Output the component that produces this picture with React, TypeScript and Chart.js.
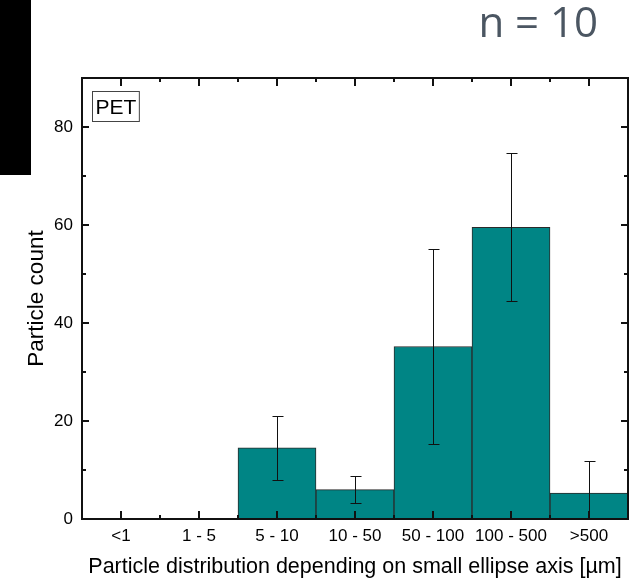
import React, { useEffect, useRef } from 'react';
import { Chart, registerables } from 'chart.js';

Chart.register(...registerables);

const categories = ['<1', '1 - 5', '5 - 10', '10 - 50', '50 - 100', '100 - 500', '>500'];
const counts = [0, 0, 14.5, 6.0, 35.2, 59.5, 5.3];
const errors = [0, 0, 6.5, 2.7, 19.8, 15.1, 6.6];
const yTicks = [0, 20, 40, 60, 80];
const yMinorTicks = [10, 30, 50, 70];
const panelLabel = 'PET';
const sampleLabel = 'n = 10';
const xTitle = 'Particle distribution depending on small ellipse axis [µm]';
const yTitle = 'Particle count';

const FONT = '"Liberation Sans", Arial, sans-serif';

const decor = {
  id: 'decor',
  beforeDraw(chart: any) {
    const { ctx, width, height } = chart;
    ctx.save();
    ctx.fillStyle = '#ffffff';
    ctx.fillRect(0, 0, width, height);
    ctx.restore();
  },
  afterDatasetsDraw(chart: any) {
    const { ctx, chartArea: a, scales } = chart;
    const x = scales.x;
    const y = scales.y;
    const meta = chart.getDatasetMeta(0);

    // error bars
    ctx.save();
    ctx.beginPath();
    ctx.rect(a.left, a.top, a.right - a.left, a.bottom - a.top);
    ctx.clip();
    ctx.strokeStyle = '#111111';
    ctx.lineWidth = 1;
    meta.data.forEach((bar: any, i: number) => {
      const e = errors[i];
      if (!e) return;
      const cx = Math.round(bar.x) + 0.5;
      const yHi = Math.round(y.getPixelForValue(counts[i] + e)) + 0.5;
      const yLo = Math.round(y.getPixelForValue(counts[i] - e)) + 0.5;
      ctx.beginPath();
      ctx.moveTo(cx, yHi);
      ctx.lineTo(cx, yLo);
      ctx.moveTo(cx - 5, yHi);
      ctx.lineTo(cx + 6, yHi);
      ctx.moveTo(cx - 5, yLo);
      ctx.lineTo(cx + 6, yLo);
      ctx.stroke();
    });
    ctx.restore();

    // ticks
    ctx.save();
    ctx.strokeStyle = '#111111';
    ctx.lineWidth = 2;
    ctx.beginPath();
    categories.forEach((_, i) => {
      const px = Math.round(x.getPixelForValue(i));
      ctx.moveTo(px, a.bottom);
      ctx.lineTo(px, a.bottom - 8);
      ctx.moveTo(px, a.top);
      ctx.lineTo(px, a.top + 8);
      if (i < categories.length - 1) {
        const mx = Math.round((x.getPixelForValue(i) + x.getPixelForValue(i + 1)) / 2);
        ctx.moveTo(mx, a.bottom);
        ctx.lineTo(mx, a.bottom - 4);
        ctx.moveTo(mx, a.top);
        ctx.lineTo(mx, a.top + 4);
      }
    });
    yTicks.forEach((v) => {
      const py = Math.round(y.getPixelForValue(v));
      ctx.moveTo(a.left, py);
      ctx.lineTo(a.left + 7, py);
      ctx.moveTo(a.right, py);
      ctx.lineTo(a.right - 7, py);
    });
    yMinorTicks.forEach((v) => {
      const py = Math.round(y.getPixelForValue(v));
      ctx.moveTo(a.left, py);
      ctx.lineTo(a.left + 4, py);
      ctx.moveTo(a.right, py);
      ctx.lineTo(a.right - 4, py);
    });
    ctx.stroke();

    // frame
    ctx.strokeStyle = '#111111';
    ctx.lineWidth = 2;
    ctx.strokeRect(a.left, a.top, a.right - a.left, a.bottom - a.top);
    ctx.restore();
  },
  afterDraw(chart: any) {
    const { ctx, chartArea: a } = chart;
    ctx.save();
    // black block on the left
    ctx.fillStyle = '#000000';
    ctx.fillRect(0, 0, 31, 175);

    // sample size label
    ctx.fillStyle = '#4b5662';
    ctx.font = '42px "Open Sans", "Noto Sans", sans-serif';
    ctx.textAlign = 'right';
    ctx.textBaseline = 'alphabetic';
    ctx.fillText(sampleLabel, 598, 37);

    // panel label box
    const bx = a.left + 10;
    const by = a.top + 13;
    ctx.font = '21px ' + FONT;
    ctx.textAlign = 'left';
    const tw = ctx.measureText(panelLabel).width;
    ctx.fillStyle = '#ffffff';
    ctx.fillRect(bx, by, tw + 6, 30);
    ctx.strokeStyle = '#444444';
    ctx.lineWidth = 1;
    ctx.strokeRect(bx + 0.5, by + 0.5, tw + 6, 30);
    ctx.fillStyle = '#000000';
    ctx.fillText(panelLabel, bx + 3.5, by + 23);
    ctx.restore();
  },
};

export default function App() {
  const ref = useRef<HTMLCanvasElement | null>(null);

  useEffect(() => {
    if (!ref.current) return;
    const chart = new Chart(ref.current, {
      type: 'bar',
      data: {
        labels: categories,
        datasets: [
          {
            data: counts,
            backgroundColor: '#008585',
            borderColor: '#2a2a2a',
            borderWidth: 1,
            borderSkipped: false,
            categoryPercentage: 1,
            barPercentage: 1,
          },
        ],
      },
      options: {
        animation: false,
        responsive: false,
        devicePixelRatio: 1,
        layout: { padding: { top: 78, right: 13, left: 0, bottom: 0 } },
        plugins: {
          legend: { display: false },
          tooltip: { enabled: false },
          title: { display: false },
        },
        scales: {
          x: {
            type: 'category',
            offset: true,
            grid: { display: false, drawTicks: false },
            border: { display: false },
            ticks: {
              color: '#000000',
              font: { family: FONT, size: 17 },
              padding: 7,
              maxRotation: 0,
              autoSkip: false,
            },
            title: {
              display: true,
              text: xTitle,
              color: '#000000',
              font: { family: FONT, size: 21.5 },
              padding: { top: 0, bottom: 2 },
            },
            afterFit: (s: any) => {
              s.height = 63;
            },
          },
          y: {
            min: 0,
            max: 90,
            grid: { display: false, drawTicks: false },
            border: { display: false },
            afterBuildTicks: (s: any) => {
              s.ticks = yTicks.map((v) => ({ value: v }));
            },
            ticks: {
              color: '#000000',
              font: { family: FONT, size: 17 },
              padding: 9,
            },
            title: {
              display: true,
              text: yTitle,
              color: '#000000',
              font: { family: FONT, size: 22.5 },
              padding: { top: 23.5, bottom: 0 },
            },
            afterFit: (s: any) => {
              s.width = 82;
            },
          },
        },
      },
      plugins: [decor],
    });
    return () => chart.destroy();
  }, []);

  return (
    <div style={{ position: 'absolute', left: 0, top: 0, width: 641, height: 582 }}>
      <canvas ref={ref} width={641} height={582} style={{ width: 641, height: 582, display: 'block' }} />
    </div>
  );
}
